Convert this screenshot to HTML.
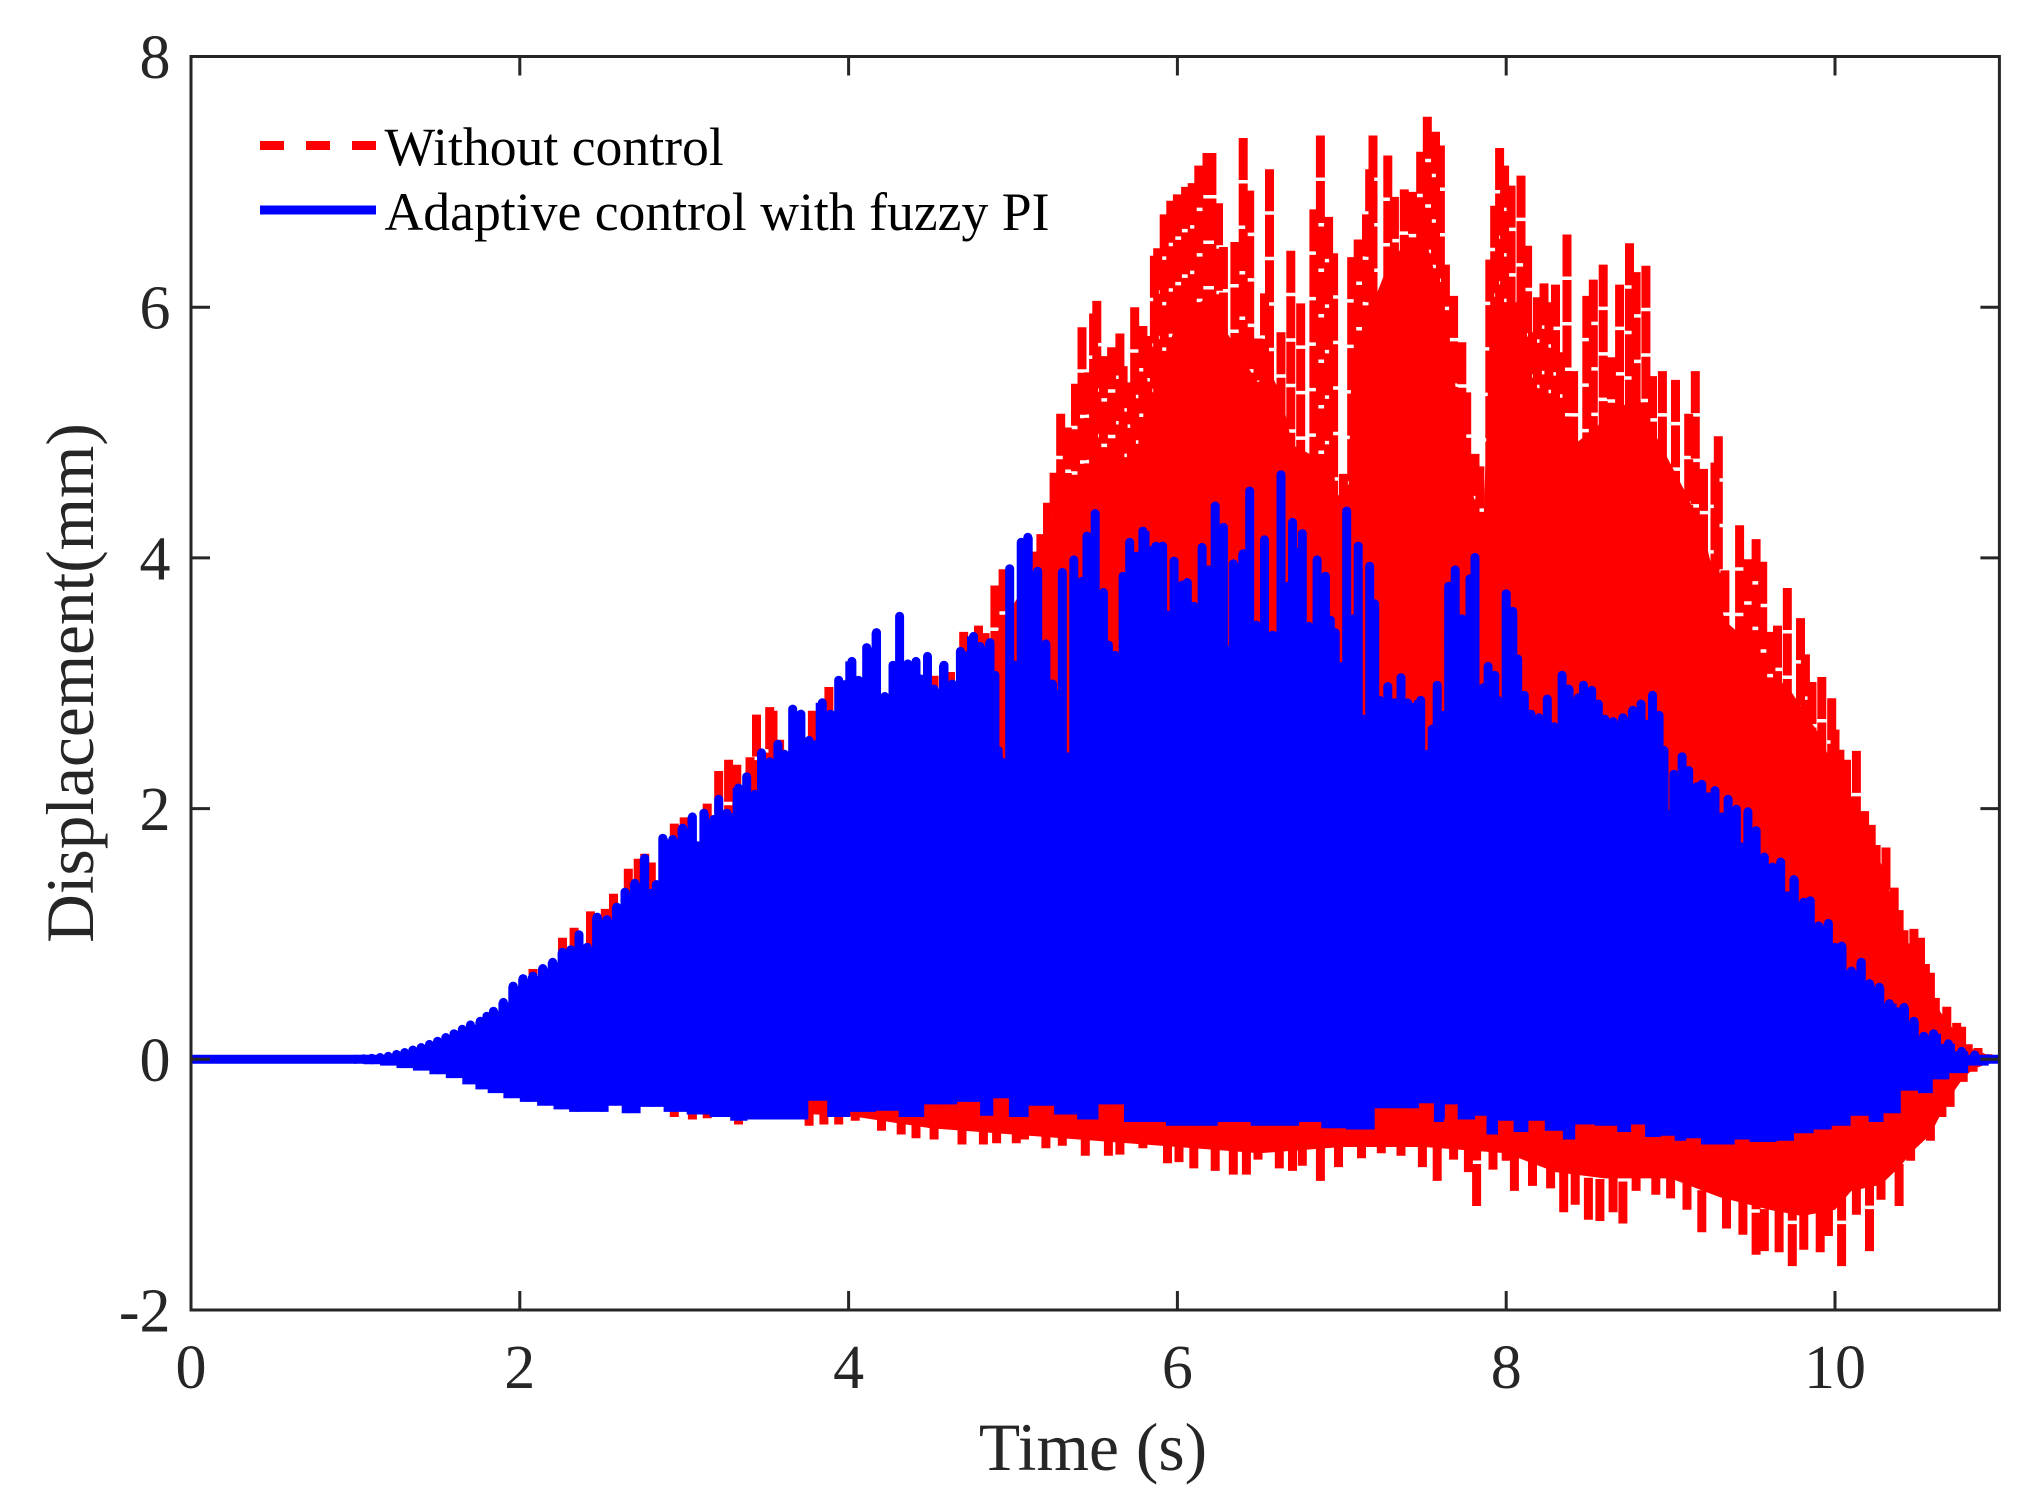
<!DOCTYPE html>
<html>
<head>
<meta charset="utf-8">
<title>Displacement vs Time</title>
<style>
html,body{margin:0;padding:0;background:#fff;}
svg{display:block;}
text{font-family:"Liberation Serif","Times New Roman",serif;}
</style>
</head>
<body>
<svg id="chart" xmlns="http://www.w3.org/2000/svg" width="2044" height="1505" viewBox="0 0 2044 1505">
  <rect x="0" y="0" width="2044" height="1505" fill="#fff"/>
  <defs><clipPath id="plot-clip"><rect x="191" y="56" width="1808.5" height="1254"/></clipPath></defs>
  <g id="marks" clip-path="url(#plot-clip)"></g>
  <g id="axes"></g>
  <text x="1093" y="1470" font-size="67.5" text-anchor="middle" fill="#262626">Time (s)</text>
  <text transform="translate(93,683) rotate(-90)" font-size="67.3" text-anchor="middle" fill="#262626">Displacement(mm)</text>
  <g>
    <line x1="260" x2="376" y1="145.5" y2="145.5" stroke="#ff0000" stroke-width="9" stroke-dasharray="24 22"/>
    <text x="384.5" y="165" font-size="53.7" fill="#000">Without control</text>
    <line x1="260" x2="376" y1="210" y2="210" stroke="#0000ff" stroke-width="9"/>
    <text x="384.5" y="230" font-size="53.7" fill="#000">Adaptive control with fuzzy PI</text>
  </g>
</svg>
<script>
const xTicks = [0, 2, 4, 6, 8, 10];
const yTicks = [-2, 0, 2, 4, 6, 8];
const xDomain = [0, 11];
const yDomain = [-2, 8];

// [time s, displacement mm] envelope readings, without control
const redUpper = [[1,0],[1.5,.15],[2.08,.72],[2.26,.97],[2.33,1.05],[2.43,1.18],[2.52,1.2],[2.57,1.32],[2.66,1.52],[2.72,1.6],[2.76,1.64],[2.8,1.57],[2.94,1.88],[3,1.93],[3.14,2.04],[3.21,2.3],[3.27,2.39],[3.32,2.35],[3.4,2.41],[3.44,2.75],[3.52,2.81],[3.54,2.78],[3.58,2.55],[3.78,2.78],[3.88,2.97],[4.52,3.06],[4.62,3.09],[4.7,3.41],[4.79,3.46],[4.83,3.4],[4.89,3.78],[4.94,3.91],[5.12,4.05],[5.17,4.19],[5.21,4.44],[5.25,4.68],[5.29,5.15],[5.33,5.04],[5.38,5.39],[5.42,5.84],[5.46,5.48],[5.49,5.95],[5.51,6.05],[5.55,5.61],[5.6,5.68],[5.65,5.79],[5.67,5.53],[5.72,5.4],[5.74,6],[5.79,5.85],[5.82,5.77],[5.86,6.41],[5.88,6.47],[5.92,6.74],[5.96,6.85],[6,6.9],[6.05,6.96],[6.09,6.99],[6.13,7.13],[6.18,7.23],[6.21,7.23],[6.25,6.83],[6.28,6.48],[6.35,6.52],[6.4,7.35],[6.44,6.93],[6.49,5.75],[6.53,6.11],[6.56,7.1],[6.63,5.8],[6.69,6.45],[6.75,6.03],[6.83,6.78],[6.87,7.37],[6.92,6.72],[6.95,6.43],[7.01,4.67],[7.06,6.4],[7.1,6.54],[7.15,6.74],[7.17,7.1],[7.19,7.37],[7.28,7.21],[7.32,6.88],[7.38,6.94],[7.43,6.92],[7.48,7.24],[7.52,7.52],[7.57,7.4],[7.6,7.29],[7.63,6.34],[7.68,6.09],[7.73,5.72],[7.76,5.32],[7.81,4.83],[7.84,4.73],[7.86,4.36],[7.9,6.38],[7.93,6.81],[7.96,7.27],[7.99,7.13],[8.03,6.97],[8.09,7.05],[8.13,6.49],[8.16,5.8],[8.19,6.08],[8.23,6.19],[8.26,6.04],[8.3,6.18],[8.33,5.64],[8.37,6.58],[8.41,5.49],[8.49,6.09],[8.53,6.22],[8.59,6.34],[8.64,5.6],[8.69,6.18],[8.75,6.51],[8.79,6.28],[8.85,6.33],[8.89,5.45],[8.95,5.49],[9.03,5.42],[9.11,5.15],[9.15,5.49],[9.2,4.71],[9.27,4.76],[9.29,4.97],[9.33,3.9],[9.42,4.26],[9.47,3.99],[9.52,4.15],[9.56,3.97],[9.61,3.41],[9.65,3.46],[9.71,3.76],[9.79,3.52],[9.82,3.23],[9.86,3.01],[9.92,3.05],[9.98,2.88],[10,2.63],[10.03,2.47],[10.07,2.39],[10.13,2.46],[10.18,1.98],[10.22,1.87],[10.25,1.71],[10.31,1.69],[10.36,1.37],[10.39,1.19],[10.42,1.03],[10.48,1.04],[10.52,.97],[10.55,.76],[10.58,.69],[10.61,.49],[10.68,.42],[10.74,.29],[10.77,.26],[10.81,.12],[10.87,.09],[10.93,.04],[11,0]];
const redLower = [[1,0],[1.5,-.08],[2.94,-.46],[3.05,-.48],[3.14,-.47],[3.33,-.52],[3.76,-.53],[3.85,-.52],[3.94,-.52],[4.04,-.49],[4.2,-.57],[4.32,-.6],[4.41,-.63],[4.52,-.64],[4.69,-.68],[4.82,-.68],[4.9,-.67],[5.02,-.67],[5.07,-.64],[5.2,-.71],[5.3,-.69],[5.44,-.77],[5.58,-.77],[5.65,-.76],[5.79,-.71],[5.94,-.83],[6.01,-.82],[6.1,-.87],[6.23,-.89],[6.34,-.92],[6.42,-.92],[6.49,-.8],[6.62,-.87],[6.7,-.89],[6.76,-.85],[6.87,-.97],[6.98,-.86],[7.12,-.79],[7.24,-.75],[7.36,-.77],[7.49,-.86],[7.58,-.97],[7.68,-.8],[7.77,-.9],[7.82,-1.17],[7.92,-.88],[8,-.81],[8.05,-1.05],[8.16,-1.01],[8.27,-1.03],[8.35,-1.22],[8.42,-1.16],[8.5,-1.28],[8.57,-1.29],[8.65,-1.22],[8.71,-1.31],[8.79,-1.05],[8.91,-1.08],[9,-1.11],[9.1,-1.2],[9.19,-1.38],[9.34,-1.35],[9.44,-1.4],[9.52,-1.56],[9.57,-1.53],[9.66,-1.54],[9.74,-1.65],[9.81,-1.52],[9.91,-1.54],[9.96,-1.41],[10.04,-1.65],[10.13,-1.24],[10.21,-1.53],[10.28,-1.12],[10.39,-1.17],[10.46,-.81],[10.58,-.65],[10.65,-.46],[10.7,-.38],[10.78,-.18],[10.84,-.1],[10.9,-.02],[11,0]];
const redCoreUpper = [[1,0],[1.5,.1],[2,.45],[3,1.6],[4,2.8],[4.7,3],[4.9,3.4],[5.17,4],[5.25,4.4],[5.33,4.55],[5.4,4.6],[5.6,4.8],[5.72,4.7],[5.8,5],[5.9,5.5],[6,5.9],[6.2,6.1],[6.3,5.8],[6.44,5.5],[6.49,5.4],[6.56,5.5],[6.63,5.3],[6.7,4.9],[6.85,4.8],[6.95,4.7],[6.97,4.5],[7.04,4.5],[7.06,5.6],[7.3,6.4],[7.5,6.6],[7.6,6.1],[7.7,5.3],[7.8,4.5],[7.86,4.2],[7.9,5.8],[8.1,6.1],[8.16,5.4],[8.3,5.2],[8.41,4.9],[8.6,5.1],[8.8,5.3],[8.9,5],[9.1,4.5],[9.2,4.2],[9.33,3.5],[9.5,3.3],[9.6,3],[9.7,3],[9.8,2.8],[9.9,2.6],[10,2.3],[10.1,2.1],[10.2,1.8],[10.3,1.5],[10.4,1],[10.5,.85],[10.6,.45],[10.8,.1],[11,0]];
const redCoreLower = [[1,0],[1.8,-.15],[3,-.4],[4,-.45],[4.5,-.55],[5,-.6],[5.5,-.65],[6,-.7],[6.5,-.75],[7,-.7],[7.5,-.7],[8,-.75],[8.3,-.9],[8.6,-.95],[9,-.95],[9.3,-1.1],[9.6,-1.2],[9.8,-1.25],[10,-1.2],[10.1,-1.05],[10.28,-1],[10.4,-.85],[10.46,-.75],[10.58,-.6],[10.65,-.42],[10.7,-.3],[10.78,-.15],[10.84,-.08],[11,0]];

// [time s, displacement mm] envelope readings, adaptive control
const blueUpper = [[1,0],[1.05,.04],[1.1,.045],[1.15,.05],[1.2,.06],[1.25,.075],[1.3,.09],[1.35,.11],[1.4,.13],[1.45,.155],[1.5,.18],[1.55,.21],[1.6,.24],[1.65,.275],[1.7,.31],[1.76,.34],[1.8,.38],[1.84,.42],[1.9,.49],[1.96,.62],[2.02,.68],[2.08,.7],[2.14,.76],[2.2,.81],[2.26,.89],[2.31,.91],[2.36,1.03],[2.41,.93],[2.47,1.17],[2.53,1.15],[2.59,1.25],[2.64,1.37],[2.7,1.44],[2.76,1.64],[2.8,1.36],[2.83,1.43],[2.87,1.8],[2.93,1.79],[2.99,1.88],[3.05,1.97],[3.08,1.74],[3.12,2],[3.18,1.95],[3.21,2.11],[3.26,2],[3.33,2.2],[3.38,2.29],[3.43,2.15],[3.47,2.48],[3.52,2.41],[3.57,2.55],[3.61,2.47],[3.66,2.83],[3.71,2.79],[3.76,2.58],[3.84,2.88],[3.89,2.79],[3.94,3.06],[4.02,3.21],[4.06,3.06],[4.11,3.32],[4.17,3.44],[4.22,2.93],[4.27,3.18],[4.31,3.57],[4.36,3.19],[4.41,3.21],[4.44,3.07],[4.48,3.25],[4.52,2.99],[4.58,3.18],[4.63,3.03],[4.68,3.29],[4.76,3.41],[4.8,3.33],[4.86,3.36],[4.89,3.1],[4.91,2.5],[4.93,2.41],[4.98,3.95],[5.01,3.18],[5.05,4.16],[5.09,4.2],[5.15,3.93],[5.2,3.35],[5.24,3.03],[5.26,2.95],[5.3,3.92],[5.33,2.45],[5.37,4.02],[5.42,3.85],[5.45,4.21],[5.5,4.39],[5.55,3.76],[5.58,3.34],[5.62,3.26],[5.67,3.89],[5.71,4.16],[5.75,4.05],[5.79,4.25],[5.87,4.13],[5.91,4.13],[5.94,3.58],[5.98,4.01],[6.03,3.82],[6.06,3.84],[6.1,3.65],[6.15,4.12],[6.19,3.94],[6.23,4.45],[6.28,4.28],[6.31,3.3],[6.34,3.99],[6.4,4.07],[6.44,4.57],[6.48,3.5],[6.53,4.18],[6.58,3.42],[6.63,4.7],[6.67,3.81],[6.7,4.32],[6.73,4.08],[6.76,4.23],[6.8,3.49],[6.85,4.02],[6.9,3.89],[6.93,3.54],[6.96,3.44],[7,3.17],[7.03,4.41],[7.07,3.55],[7.1,4.13],[7.13,2.75],[7.17,3.97],[7.2,3.67],[7.23,2.9],[7.28,3.01],[7.32,2.88],[7.36,3.08],[7.4,2.88],[7.48,2.9],[7.52,2.47],[7.55,2.67],[7.58,3.02],[7.62,2.78],[7.65,3.81],[7.69,3.94],[7.73,3.55],[7.76,3.47],[7.78,3.87],[7.81,4.04],[7.86,3],[7.89,3.17],[7.93,3.1],[7.95,2.9],[8,3.75],[8.04,3.61],[8.07,3.23],[8.11,2.94],[8.15,2.79],[8.2,2.76],[8.25,2.91],[8.29,2.69],[8.34,3.1],[8.38,2.99],[8.44,2.92],[8.47,3.02],[8.52,2.98],[8.56,2.87],[8.6,2.75],[8.65,2.73],[8.71,2.76],[8.77,2.82],[8.82,2.87],[8.85,2.71],[8.89,2.94],[8.93,2.78],[8.96,2.5],[8.98,1.99],[9.02,2.31],[9.07,2.45],[9.11,2.34],[9.16,2.21],[9.19,2.23],[9.23,2.13],[9.27,2.18],[9.31,1.97],[9.35,2.11],[9.4,2.03],[9.44,1.73],[9.47,2.01],[9.52,1.86],[9.57,1.65],[9.62,1.57],[9.67,1.61],[9.71,1.34],[9.75,1.47],[9.81,1.29],[9.85,1.3],[9.9,1.1],[9.96,1.12],[10,.93],[10.04,.94],[10.1,.74],[10.16,.81],[10.21,.64],[10.27,.61],[10.33,.48],[10.42,.45],[10.48,.34],[10.54,.22],[10.6,.24],[10.69,.16],[10.77,.1],[10.85,.07],[10.93,.04],[11,0]];
const blueLower = [[1,0],[1.1,-.04],[1.2,-.05],[1.3,-.07],[1.4,-.09],[1.5,-.12],[1.6,-.15],[1.7,-.2],[1.76,-.24],[1.85,-.27],[1.95,-.31],[2.05,-.34],[2.16,-.37],[2.25,-.4],[2.35,-.42],[2.5,-.42],[2.58,-.37],[2.66,-.43],[2.81,-.38],[2.94,-.42],[3.09,-.44],[3.22,-.46],[3.34,-.49],[3.43,-.48],[3.56,-.48],[3.7,-.48],[3.81,-.33],[3.93,-.46],[4.09,-.42],[4.24,-.41],[4.37,-.46],[4.55,-.36],[4.77,-.34],[4.83,-.45],[4.93,-.31],[5.02,-.46],[5.17,-.37],[5.33,-.44],[5.45,-.48],[5.59,-.36],[5.76,-.5],[6.1,-.53],[6.39,-.5],[6.5,-.53],[6.68,-.53],[6.8,-.5],[6.95,-.55],[7.1,-.56],[7.17,-.56],[7.23,-.39],[7.42,-.39],[7.52,-.35],[7.6,-.5],[7.64,-.36],[7.77,-.48],[7.85,-.45],[7.91,-.6],[7.99,-.49],[8.1,-.58],[8.17,-.49],[8.3,-.57],[8.39,-.64],[8.45,-.52],[8.63,-.53],[8.72,-.58],[8.8,-.52],[8.89,-.62],[8.99,-.61],[9.06,-.65],[9.13,-.63],[9.24,-.68],[9.34,-.68],[9.44,-.64],[9.52,-.66],[9.6,-.66],[9.69,-.65],[9.81,-.59],[9.93,-.56],[10.03,-.53],[10.16,-.45],[10.25,-.5],[10.34,-.43],[10.46,-.25],[10.55,-.27],[10.64,-.16],[10.75,-.11],[10.87,-.05],[11,0]];

const AX = { left: 191, right: 1999.4, top: 56.5, bottom: 1310 };
const NS = 'http://www.w3.org/2000/svg';
const xScale = t => AX.left + (t - xDomain[0]) / (xDomain[1] - xDomain[0]) * (AX.right - AX.left);
const yScale = v => AX.bottom - (v - yDomain[0]) / (yDomain[1] - yDomain[0]) * (AX.bottom - AX.top);
const CAP = 4.5;

function svgEl(tag, parent) {
  const el = document.createElementNS(NS, tag);
  parent.appendChild(el);
  return el;
}
function f(n) { return n.toFixed(1); }

function columnsPath(series, inset) {
  const y0 = yScale(0);
  return series.map(p => {
    const raw = yScale(p[1]);
    const end = raw < y0 ? Math.min(raw + inset, y0) : Math.max(raw - inset, y0);
    return 'M' + f(xScale(p[0])) + ' ' + f(end) + 'L' + f(xScale(p[0])) + ' ' + f(y0);
  }).join('');
}
function stepFill(series, inset) {
  const y0 = yScale(0);
  let d = 'M' + f(xScale(series[0][0])) + ' ' + f(y0);
  series.forEach((p, i) => {
    const raw = yScale(p[1]);
    const y = raw < y0 ? Math.min(raw + inset, y0) : Math.max(raw - inset, y0);
    const next = i < series.length - 1 ? (xScale(p[0]) + xScale(series[i + 1][0])) / 2 : xScale(p[0]);
    d += 'V' + f(y) + 'H' + f(next);
  });
  return d + 'V' + f(y0) + 'Z';
}
function corePolygon(upper, lower) {
  const pts = upper.concat(lower.slice().reverse());
  return 'M' + pts.map(p => f(xScale(p[0])) + ' ' + f(yScale(p[1]))).join('L') + 'Z';
}

const marks = document.getElementById('marks');
const axes = document.getElementById('axes');

const redCore = svgEl('path', marks);


redCore.setAttribute('d', corePolygon(redCoreUpper, redCoreLower));
redCore.setAttribute('fill', '#ff0000');

const redTop = svgEl('path', marks);


redTop.setAttribute('d', columnsPath(redUpper, 0));
redTop.setAttribute('fill', 'none');
redTop.setAttribute('stroke', '#ff0000');
redTop.setAttribute('stroke-width', '9');
redTop.setAttribute('stroke-dasharray', '42 3.5');

const redBottom = svgEl('path', marks);


redBottom.setAttribute('d', columnsPath(redLower, 0));
redBottom.setAttribute('fill', 'none');
redBottom.setAttribute('stroke', '#ff0000');
redBottom.setAttribute('stroke-width', '9');
redBottom.setAttribute('stroke-dasharray', '42 3.5');

const blueFillTop = svgEl('path', marks);


blueFillTop.setAttribute('d', stepFill(blueUpper, CAP));
blueFillTop.setAttribute('fill', '#0000ff');

const blueFillBottom = svgEl('path', marks);


blueFillBottom.setAttribute('d', stepFill(blueLower, 0));
blueFillBottom.setAttribute('fill', '#0000ff');

const blueTop = svgEl('path', marks);


blueTop.setAttribute('d', columnsPath(blueUpper, CAP));
blueTop.setAttribute('fill', 'none');
blueTop.setAttribute('stroke', '#0000ff');
blueTop.setAttribute('stroke-width', '9');
blueTop.setAttribute('stroke-linecap', 'round');

const blueBottom = svgEl('path', marks);


blueBottom.setAttribute('d', columnsPath(blueLower, CAP));
blueBottom.setAttribute('fill', 'none');
blueBottom.setAttribute('stroke', '#0000ff');
blueBottom.setAttribute('stroke-width', '9');
blueBottom.setAttribute('stroke-linecap', 'round');

const baseline = svgEl('line', marks);


baseline.setAttribute('x1', xScale(xDomain[0]));
baseline.setAttribute('x2', xScale(xDomain[1]));
baseline.setAttribute('y1', yScale(0));
baseline.setAttribute('y2', yScale(0));
baseline.setAttribute('stroke', '#0000ff');
baseline.setAttribute('stroke-width', '9');

const frame = svgEl('rect', axes);


frame.setAttribute('x', AX.left);
frame.setAttribute('y', AX.top);
frame.setAttribute('width', AX.right - AX.left);
frame.setAttribute('height', AX.bottom - AX.top);
frame.setAttribute('fill', 'none');
frame.setAttribute('stroke', '#262626');
frame.setAttribute('stroke-width', '3');

const TICK = 19;
xTicks.forEach(t => {
  const x = xScale(t);
  if (t !== xDomain[0]) {
    const b = svgEl('line', axes);
    
    
    b.setAttribute('x1', x); b.setAttribute('x2', x);
    b.setAttribute('y1', AX.bottom); b.setAttribute('y2', AX.bottom - TICK);
    b.setAttribute('stroke', '#262626'); b.setAttribute('stroke-width', '3');
    const u = svgEl('line', axes);
    
    
    u.setAttribute('x1', x); u.setAttribute('x2', x);
    u.setAttribute('y1', AX.top); u.setAttribute('y2', AX.top + TICK);
    u.setAttribute('stroke', '#262626'); u.setAttribute('stroke-width', '3');
  }
  const label = svgEl('text', axes);
  
  
  label.setAttribute('x', x);
  label.setAttribute('y', 1388);
  label.setAttribute('font-size', '62');
  label.setAttribute('text-anchor', 'middle');
  label.setAttribute('fill', '#262626');
  label.textContent = String(t);
});
yTicks.forEach(v => {
  const y = yScale(v);
  if (v !== yDomain[0] && v !== yDomain[1]) {
    const l = svgEl('line', axes);
    
    
    l.setAttribute('x1', AX.left); l.setAttribute('x2', AX.left + TICK);
    l.setAttribute('y1', y); l.setAttribute('y2', y);
    l.setAttribute('stroke', '#262626'); l.setAttribute('stroke-width', '3');
    const r = svgEl('line', axes);
    
    
    r.setAttribute('x1', AX.right); r.setAttribute('x2', AX.right - TICK);
    r.setAttribute('y1', y); r.setAttribute('y2', y);
    r.setAttribute('stroke', '#262626'); r.setAttribute('stroke-width', '3');
  }
  const label = svgEl('text', axes);
  
  
  label.setAttribute('x', 170.5);
  label.setAttribute('y', y + 21.5);
  label.setAttribute('font-size', '62');
  label.setAttribute('text-anchor', 'end');
  label.setAttribute('fill', '#262626');
  label.textContent = String(v);
});
</script>
</body>
</html>
